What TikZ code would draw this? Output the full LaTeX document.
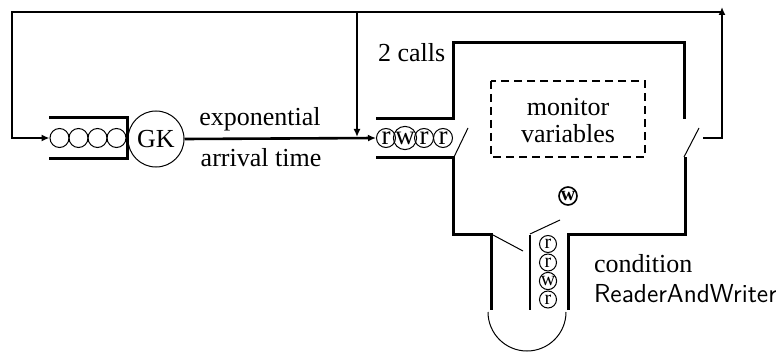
\documentclass[tikz,border=0pt]{standalone}
\usepackage{fontspec}
\setmainfont{Liberation Serif}
\usetikzlibrary{arrows.meta}
\tikzset{
  wall/.style={line width=1.5pt},
  flow/.style={line width=1.3pt},
  thin line/.style={line width=0.5pt},
  tip/.style={-{Latex[length=4pt,width=3.5pt]}},
  token/.style={circle, draw, thin line, inner sep=0pt, minimum size=9.5pt,
    font=\fontsize{13.5}{13.5}\selectfont},
  label text/.style={font=\fontsize{13}{13.5}\selectfont}
}

\begin{document}
\begin{tikzpicture}[x=0.5pt, y=-0.5pt]
    \useasboundingbox (0,0) rectangle (776,353);
    % gate keeper with its queue
    \foreach \i/\x in {1/59.5, 2/78.5, 3/97.5, 4/116.5}
      \node[token] (g\i) at (\x,138) {};
    \draw[wall] (49,118) -- (127,118) -- (127,158) -- (49,158);
    \node[circle, draw, thin line, minimum size=28pt, inner sep=0pt,
      font=\fontsize{13}{13}\selectfont] (gk) at (156,139) {GK};
    \node[label text, anchor=base] (exp) at (260,126) {exponential};
    \node[label text, anchor=base] (arr) at (261,166) {arrival time};
    % entry queue of the monitor
    \foreach \i/\t/\x in {1/r/386, 2/w/405, 3/r/424, 4/r/443}
      \node[token] (m\i) at (\x,138) {\t};
    % outer loop
    \coordinate (exit) at (703,138);
    \coordinate (ne) at (722,12);
    \coordinate (split) at (357,12);
    \draw[flow, tip] (exit) -- (722,138) -- (722,7);
    \draw[flow, tip] (ne) -| (12,138) -- (g1.west);
    \draw[flow, tip] (split) -- (357,137);
    \draw[flow, tip] (gk.east) -- (m1.west);
    \node[label text, anchor=base west] (calls) at (371,62) {2 calls};
    % monitor walls
    \draw[wall] (376,119) -- (453,119) -- (453,43) -- (684,43) -- (684,119);
    \draw[wall] (376,157) -- (453,157) -- (453,234) -- (491,234) -- (491,310);
    \draw[line width=1.1pt] (530,235) -- (530,310);
    \draw[wall] (568,310) -- (568,234) -- (685,234) -- (685,157);
    % switches
    \draw[thin line] (454,157) -- (468,128);
    \draw[thin line] (684,157) -- (699,128);
    \draw[thin line] (530,234) -- (560,220);
    \draw[thin line] (493,235) -- (523,251);
    % monitor variables
    \draw[line width=1.1pt, dash pattern=on 4pt off 2.5pt] (491,81) rectangle (645,157);
    \node[label text, align=center] (vars) at (568,121) {monitor\\variables};
    \node[token, line width=0.8pt, minimum size=9pt,
      font=\fontsize{10}{10}\selectfont\bfseries] (wb) at (568,196) {w};
    % condition queue
    \foreach \i/\t/\y in {1/r/244, 2/r/262.5, 3/w/281, 4/r/299.5}
      \node[token, minimum size=8.5pt, font=\fontsize{10}{10}\selectfont] (c\i) at (548,\y) {\t};
    \draw[thin line] (488,312) arc[start angle=180, end angle=0, radius=39];
    \node[label text, anchor=base west] (cond) at (587,272) {condition};
    \node[label text, anchor=base west, font=\fontsize{13}{13}\sffamily] (rw) at (587,302) {ReaderAndWriter};
\end{tikzpicture}
\end{document}
